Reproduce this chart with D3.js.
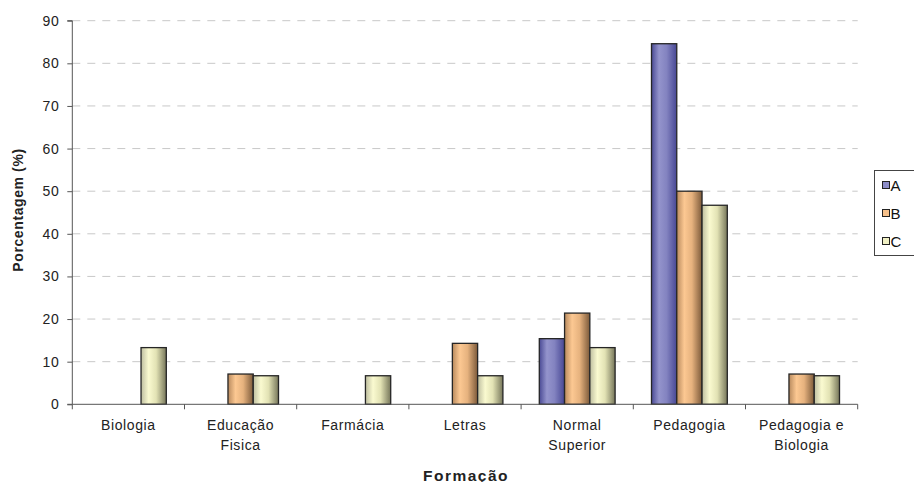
<!DOCTYPE html>
<html>
<head>
<meta charset="utf-8">
<script src="https://cdn.jsdelivr.net/npm/d3@7"></script>
<style>
  html, body { margin: 0; padding: 0; background: #fff; }
  svg { display: block; font-family: "Liberation Sans", Arial, sans-serif; }
</style>
</head>
<body>
<svg id="chart" width="914" height="482"></svg>
<script>
// Formação categories (line breaks mark wrapped labels)
const categories = ["Biologia", "Educação\nFisica", "Farmácia", "Letras", "Normal\nSuperior", "Pedagogia", "Pedagogia e\nBiologia"];
const seriesNames = ["A", "B", "C"];
const valuesA = [0, 0, 0, 0, 15.4, 84.6, 0];
const valuesB = [0, 7.1, 0, 14.3, 21.4, 50.0, 7.1];
const valuesC = [13.3, 6.7, 6.7, 6.7, 13.3, 46.7, 6.7];
const yTicks = [0, 10, 20, 30, 40, 50, 60, 70, 80, 90];

const seriesValues = [valuesA, valuesB, valuesC];

const svg = d3.select("#chart");
const plotLeft = 72.3, plotRight = 857.7, plotTop = 20.7, plotBottom = 404.3;
const textColor = "#222";

const x0 = d3.scaleBand().domain(categories).range([plotLeft, plotRight]).padding(0);
const x1 = d3.scaleBand().domain(seriesNames).range([0, x0.bandwidth()]).paddingInner(0).paddingOuter(0.72);
const y = d3.scaleLinear().domain([0, 90]).range([plotBottom, plotTop]);

// Gradients for the shaded bars
const defs = svg.append("defs");
const gradStops = {
  A: [["0%", "#4a4a94"], ["30%", "#9494cc"], ["60%", "#8383c0"], ["100%", "#474794"]],
  B: [["0%", "#b88a5e"], ["30%", "#fcc892"], ["60%", "#e6b27e"], ["100%", "#7c5a3a"]],
  C: [["0%", "#bebea0"], ["30%", "#fafad0"], ["60%", "#e2e2b4"], ["100%", "#76765a"]]
};
const fills = { A: "#8c8cc8", B: "#f6c08a", C: "#f0f0c4" };
seriesNames.forEach(s => {
  const g = defs.append("linearGradient").attr("id", "grad" + s)
    .attr("x1", "0%").attr("x2", "100%").attr("y1", "0%").attr("y2", "0%");
  gradStops[s].forEach(([o, c]) => g.append("stop").attr("offset", o).attr("stop-color", c));
});

// Dashed horizontal gridlines
svg.append("g").selectAll("line").data(yTicks.filter(t => t > 0)).join("line")
  .attr("x1", plotLeft).attr("x2", plotRight)
  .attr("y1", d => y(d)).attr("y2", d => y(d))
  .attr("stroke", "#c8c8c8").attr("stroke-width", 1)
  .attr("stroke-dasharray", "8,7");

// Y axis
const yAxis = d3.axisLeft(y).tickValues(yTicks).tickSize(5).tickPadding(8);
const gy = svg.append("g").attr("transform", `translate(${plotLeft},0)`).call(yAxis);
gy.select(".domain").attr("stroke", "#555").attr("d", `M-5,${y(90)}H0V${plotBottom}H-5`);
gy.selectAll(".tick line").attr("stroke", "#555");
gy.selectAll(".tick text").attr("font-size", 14).attr("fill", textColor)
  .attr("letter-spacing", 0.6)
  .attr("font-family", "Liberation Sans, Arial, sans-serif");

// Bars
const groups = svg.append("g").selectAll("g").data(categories).join("g")
  .attr("transform", d => `translate(${x0(d)},0)`);
groups.selectAll("rect")
  .data((d, i) => seriesNames.map((s, k) => ({ s, v: seriesValues[k][i] })).filter(e => e.v > 0))
  .join("rect")
  .attr("x", e => x1(e.s))
  .attr("y", e => y(e.v))
  .attr("width", x1.bandwidth())
  .attr("height", e => y(0) - y(e.v))
  .attr("fill", e => `url(#grad${e.s})`)
  .attr("stroke", "#262626").attr("stroke-width", 1.3);

// X axis with ticks at category boundaries
const gx = svg.append("g");
gx.append("line").attr("x1", plotLeft).attr("x2", plotRight).attr("y1", plotBottom).attr("y2", plotBottom)
  .attr("stroke", "#555").attr("stroke-width", 1);
const bounds = categories.map(c => x0(c)).concat([plotRight]);
gx.selectAll("line.tk").data(bounds).join("line").attr("class", "tk")
  .attr("x1", d => d).attr("x2", d => d).attr("y1", plotBottom).attr("y2", plotBottom + 5)
  .attr("stroke", "#555");

// Category labels
const lbl = svg.append("g").selectAll("text").data(categories).join("text")
  .attr("x", d => x0(d) + x0.bandwidth() / 2)
  .attr("y", 429.5)
  .attr("text-anchor", "middle")
  .attr("letter-spacing", 0.6)
  .attr("font-size", 14).attr("fill", textColor);
lbl.each(function(d) {
  const t = d3.select(this);
  d.split("\n").forEach((line, i) => {
    t.append("tspan").attr("x", x0(d) + x0.bandwidth() / 2).attr("dy", i === 0 ? 0 : 20).text(line);
  });
});

// Axis titles
svg.append("text").attr("x", 466).attr("y", 480.5)
  .attr("text-anchor", "middle").attr("font-size", 15.5).attr("font-weight", "bold")
  .attr("letter-spacing", 1.5)
  .attr("fill", textColor).text("Formação");
svg.append("text").attr("transform", `translate(23,210) rotate(-90)`)
  .attr("text-anchor", "middle").attr("font-size", 14).attr("font-weight", "bold")
  .attr("letter-spacing", 0.6)
  .attr("fill", textColor).text("Porcentagem (%)");

// Legend
const lg = svg.append("g");
lg.append("rect").attr("x", 874.5).attr("y", 170.5).attr("width", 60).attr("height", 85)
  .attr("fill", "#fff").attr("stroke", "#444").attr("stroke-width", 1);
const rows = lg.selectAll("g").data(seriesNames).join("g")
  .attr("transform", (d, i) => `translate(882,${185 + i * 28})`);
rows.append("rect").attr("x", 0.5).attr("y", -3.5).attr("width", 7).attr("height", 7)
  .attr("fill", d => fills[d]).attr("stroke", "#222").attr("stroke-width", 1);
rows.append("text").attr("x", 8.5).attr("y", 5.5).attr("font-size", 15).attr("fill", "#111").text(d => d);
</script>
</body>
</html>
